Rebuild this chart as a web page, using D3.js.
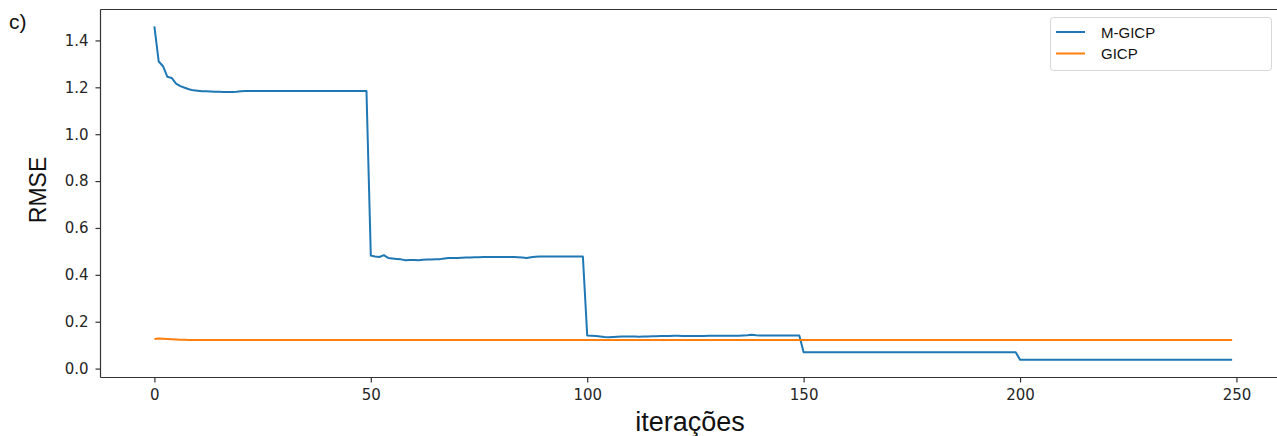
<!DOCTYPE html>
<html>
<head>
<meta charset="utf-8">
<script src="https://cdn.jsdelivr.net/npm/d3@7"></script>
<style>
  html, body { margin: 0; padding: 0; background: #fff; }
  svg { display: block; }
  .tick text { font-family: "DejaVu Sans", sans-serif; font-size: 15px; fill: #262626; }
</style>
</head>
<body>
<svg id="chart" width="1277" height="436"></svg>
<script>
// RMSE per iteration (0..249) for the two registration methods
const iterations = d3.range(250);

const mgicp = [
  1.460, 1.310, 1.290, 1.245, 1.240, 1.216, 1.205, 1.198, 1.192, 1.187,
  1.185, 1.183, 1.183, 1.182, 1.181, 1.181, 1.180, 1.180, 1.180, 1.181,
  1.183, 1.184, 1.184, 1.184, 1.184, 1.184, 1.184, 1.184, 1.184, 1.184,
  1.184, 1.184, 1.184, 1.184, 1.184, 1.184, 1.184, 1.184, 1.184, 1.184,
  1.184, 1.184, 1.184, 1.184, 1.184, 1.184, 1.184, 1.184, 1.184, 1.184,
  0.482, 0.478, 0.476, 0.484, 0.472, 0.470, 0.468, 0.466, 0.462, 0.463,
  0.463, 0.462, 0.464, 0.465, 0.465, 0.466, 0.467, 0.470, 0.472, 0.472,
  0.472, 0.473, 0.474, 0.474, 0.475, 0.475, 0.476, 0.476, 0.476, 0.476,
  0.476, 0.476, 0.476, 0.476, 0.475, 0.474, 0.472, 0.475, 0.477, 0.478,
  0.478, 0.478, 0.478, 0.478, 0.478, 0.478, 0.478, 0.478, 0.478, 0.478,
  0.141, 0.140, 0.139, 0.137, 0.135, 0.134, 0.135, 0.136, 0.137, 0.137,
  0.137, 0.137, 0.136, 0.137, 0.137, 0.138, 0.138, 0.139, 0.139, 0.139,
  0.140, 0.140, 0.139, 0.139, 0.139, 0.139, 0.139, 0.139, 0.140, 0.140,
  0.140, 0.140, 0.140, 0.140, 0.140, 0.140, 0.141, 0.142, 0.144, 0.142,
  0.141, 0.141, 0.141, 0.141, 0.141, 0.141, 0.141, 0.141, 0.141, 0.141,
  0.070, 0.070, 0.070, 0.070, 0.070, 0.070, 0.070, 0.070, 0.070, 0.070,
  0.070, 0.070, 0.070, 0.070, 0.070, 0.070, 0.070, 0.070, 0.070, 0.070,
  0.070, 0.070, 0.070, 0.070, 0.070, 0.070, 0.070, 0.070, 0.070, 0.070,
  0.070, 0.070, 0.070, 0.070, 0.070, 0.070, 0.070, 0.070, 0.070, 0.070,
  0.070, 0.070, 0.070, 0.070, 0.070, 0.070, 0.070, 0.070, 0.070, 0.070,
  0.038, 0.038, 0.038, 0.038, 0.038, 0.038, 0.038, 0.038, 0.038, 0.038,
  0.038, 0.038, 0.038, 0.038, 0.038, 0.038, 0.038, 0.038, 0.038, 0.038,
  0.038, 0.038, 0.038, 0.038, 0.038, 0.038, 0.038, 0.038, 0.038, 0.038,
  0.038, 0.038, 0.038, 0.038, 0.038, 0.038, 0.038, 0.038, 0.038, 0.038,
  0.038, 0.038, 0.038, 0.038, 0.038, 0.038, 0.038, 0.038, 0.038, 0.038
];

const gicp = [
  0.126, 0.128, 0.127, 0.126, 0.125, 0.124, 0.123, 0.123, 0.122, 0.122,
  0.122, 0.122, 0.122, 0.122, 0.122, 0.122, 0.122, 0.122, 0.122, 0.122,
  0.122, 0.122, 0.122, 0.122, 0.122, 0.122, 0.122, 0.122, 0.122, 0.122,
  0.122, 0.122, 0.122, 0.122, 0.122, 0.122, 0.122, 0.122, 0.122, 0.122,
  0.122, 0.122, 0.122, 0.122, 0.122, 0.122, 0.122, 0.122, 0.122, 0.122,
  0.122, 0.122, 0.122, 0.122, 0.122, 0.122, 0.122, 0.122, 0.122, 0.122,
  0.122, 0.122, 0.122, 0.122, 0.122, 0.122, 0.122, 0.122, 0.122, 0.122,
  0.122, 0.122, 0.122, 0.122, 0.122, 0.122, 0.122, 0.122, 0.122, 0.122,
  0.122, 0.122, 0.122, 0.122, 0.122, 0.122, 0.122, 0.122, 0.122, 0.122,
  0.122, 0.122, 0.122, 0.122, 0.122, 0.122, 0.122, 0.122, 0.122, 0.122,
  0.122, 0.122, 0.122, 0.122, 0.122, 0.122, 0.122, 0.122, 0.122, 0.122,
  0.122, 0.122, 0.122, 0.122, 0.122, 0.122, 0.122, 0.122, 0.122, 0.122,
  0.122, 0.122, 0.122, 0.122, 0.122, 0.122, 0.122, 0.122, 0.122, 0.122,
  0.122, 0.122, 0.122, 0.122, 0.122, 0.122, 0.122, 0.122, 0.122, 0.122,
  0.122, 0.122, 0.122, 0.122, 0.122, 0.122, 0.122, 0.122, 0.122, 0.122,
  0.122, 0.122, 0.122, 0.122, 0.122, 0.122, 0.122, 0.122, 0.122, 0.122,
  0.122, 0.122, 0.122, 0.122, 0.122, 0.122, 0.122, 0.122, 0.122, 0.122,
  0.122, 0.122, 0.122, 0.122, 0.122, 0.122, 0.122, 0.122, 0.122, 0.122,
  0.122, 0.122, 0.122, 0.122, 0.122, 0.122, 0.122, 0.122, 0.122, 0.122,
  0.122, 0.122, 0.122, 0.122, 0.122, 0.122, 0.122, 0.122, 0.122, 0.122,
  0.122, 0.122, 0.122, 0.122, 0.122, 0.122, 0.122, 0.122, 0.122, 0.122,
  0.122, 0.122, 0.122, 0.122, 0.122, 0.122, 0.122, 0.122, 0.122, 0.122,
  0.122, 0.122, 0.122, 0.122, 0.122, 0.122, 0.122, 0.122, 0.122, 0.122,
  0.122, 0.122, 0.122, 0.122, 0.122, 0.122, 0.122, 0.122, 0.122, 0.122,
  0.122, 0.122, 0.122, 0.122, 0.122, 0.122, 0.122, 0.122, 0.122, 0.122
];

const seriesNames = ["M-GICP", "GICP"];
const seriesColors = ["#1f77b4", "#ff7f0e"];
const xTicks = [0, 50, 100, 150, 200, 250];
const yTicks = [0.0, 0.2, 0.4, 0.6, 0.8, 1.0, 1.2, 1.4];

const svg = d3.select("#chart");

// plot frame in page pixels
const frame = { left: 100.5, top: 9.5, right: 1286, bottom: 377.5 };

const x = d3.scaleLinear().domain([-12.45, 261.45]).range([frame.left, frame.right]);
const y = d3.scaleLinear().domain([-0.038, 1.532]).range([frame.bottom, frame.top]);

const plot = svg.append("g");

// series lines
const line = d3.line().x((d, i) => x(iterations[i])).y(d => y(d));
[mgicp, gicp].forEach((vals, k) => {
  plot.append("path")
    .datum(vals)
    .attr("fill", "none")
    .attr("stroke", seriesColors[k])
    .attr("stroke-width", 2)
    .attr("stroke-linejoin", "round")
    .attr("d", line);
});

// spines
function addSpine(x1, y1, x2, y2) {
  svg.append("line")
    .attr("x1", x1).attr("y1", y1).attr("x2", x2).attr("y2", y2)
    .attr("stroke", "#333").attr("stroke-width", 1.2);
}
addSpine(frame.left, frame.top, frame.left, frame.bottom);
addSpine(frame.left, frame.bottom, frame.right, frame.bottom);
addSpine(frame.left, frame.top, frame.right, frame.top);

// axes
const xAxis = d3.axisBottom(x).tickValues(xTicks).tickSize(5).tickPadding(7).tickFormat(d3.format("d"));
const gx = svg.append("g").attr("transform", `translate(0,${frame.bottom})`).call(xAxis);
gx.select(".domain").remove();
gx.selectAll(".tick line").attr("stroke", "#333").attr("stroke-width", 1.2);

const yAxis = d3.axisLeft(y).tickValues(yTicks).tickSize(5).tickPadding(7).tickFormat(d3.format(".1f"));
const gy = svg.append("g").attr("transform", `translate(${frame.left},0)`).call(yAxis);
gy.select(".domain").remove();
gy.selectAll(".tick line").attr("stroke", "#333").attr("stroke-width", 1.2);

// axis titles
svg.append("text")
  .attr("transform", `translate(46,190) rotate(-90)`)
  .attr("text-anchor", "middle")
  .attr("font-family", "Liberation Sans, Arial, sans-serif")
  .attr("font-size", 23)
  .attr("fill", "#111")
  .text("RMSE");

svg.append("text")
  .attr("x", 690)
  .attr("y", 431)
  .attr("text-anchor", "middle")
  .attr("font-family", "Liberation Sans, Arial, sans-serif")
  .attr("font-size", 27)
  .attr("fill", "#111")
  .text("iterações");

// panel tag
svg.append("text")
  .attr("x", 9)
  .attr("y", 29)
  .attr("font-family", "Liberation Sans, Arial, sans-serif")
  .attr("font-size", 21)
  .attr("fill", "#111")
  .text("c)");

// legend
const legend = svg.append("g");
legend.append("rect")
  .attr("x", 1050.5).attr("y", 17.5)
  .attr("width", 221).attr("height", 53)
  .attr("rx", 3)
  .attr("fill", "#fff")
  .attr("stroke", "#d6d6d6")
  .attr("stroke-width", 1);
seriesNames.forEach((name, k) => {
  const ly = 32 + k * 21.5;
  legend.append("line")
    .attr("x1", 1056).attr("x2", 1085)
    .attr("y1", ly).attr("y2", ly)
    .attr("stroke", seriesColors[k])
    .attr("stroke-width", 2);
  legend.append("text")
    .attr("x", 1101)
    .attr("y", ly + 5.5)
    .attr("font-family", "Liberation Sans, Arial, sans-serif")
    .attr("font-size", 15)
    .attr("fill", "#111")
    .text(name);
});
</script>
</body>
</html>
